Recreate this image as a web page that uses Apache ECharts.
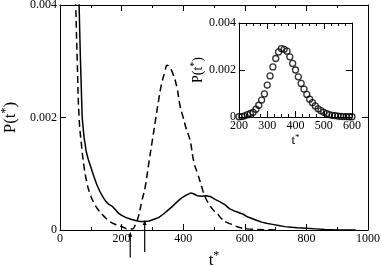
<!DOCTYPE html>
<html><head><meta charset="utf-8">
<script src="https://cdn.jsdelivr.net/npm/echarts@6/dist/echarts.min.js"></script>
<style>html,body{margin:0;padding:0;background:#fff}#c{width:382px;height:266px}</style>
</head><body><div id="c"></div>
<script>
// Main plot: solid curve
const tSolid = [60,62,66,72,78,85,92,100,110,120,130,140,150,160,170,180,190,200,215,230,245,260,275,290,305,320,335,350,365,380,395,410,425,435,445,460,475,490,505,520,535,550,565,580,595,610,625,640,655,670,690,710,730,750,770,800,830,860,900,960];
const pSolid = [0.0042,0.0040,0.0031,0.0020,0.00165,0.0014,0.00125,0.00112,0.00095,0.0008,0.00068,0.00058,0.0005,0.00045,0.00042,0.00036,0.0003,0.00026,0.00022,0.00019,0.00017,0.00015,0.00015,0.00016,0.00019,0.00022,0.00028,0.00035,0.00042,0.0005,0.00057,0.00062,0.00066,0.00064,0.00061,0.0006,0.00061,0.00059,0.00054,0.0005,0.00045,0.00038,0.00034,0.00031,0.00028,0.00023,0.0002,0.00017,0.00014,0.00012,0.0001,0.00008,0.00006,0.00005,0.00004,0.00003,0.00002,0.00001,0.0,0.0];
// Main plot: dashed curve
const tDashed = [48,51,56,62,70,78,87,97,110,124,140,162,185,205,220,235,245,255,265,276,290,300,310,320,330,340,348,355,365,379,390,400,410,422,435,447,460,471,485,500,509,525,540,562,580,606,640,700];
const pDashed = [0.0045,0.0040,0.0030,0.0020,0.0015,0.00113,0.00085,0.00065,0.00048,0.00036,0.00026,0.00015,0.00009,0.00005,0.00002,0.00002,0.0001,0.00025,0.0005,0.00075,0.00125,0.0016,0.00195,0.0023,0.0026,0.0028,0.00293,0.0029,0.0028,0.00255,0.0022,0.002,0.0018,0.0016,0.0012,0.001,0.00077,0.00059,0.00045,0.00034,0.0003,0.0002,0.00014,0.00009,0.00005,0.00002,0.00001,0.0];
// Inset: circles
const tInset = [200,210,220,230,240,250,260,270,280,290,300,310,320,330,340,350,360,370,380,390,400,410,420,430,440,450,460,470,480,490,500,510,520,530,540,550,560,570,580,590,600];
const pInset = [0.00001,0.00002,0.00005,0.0001,0.00015,0.0002,0.00033,0.0005,0.00072,0.00098,0.00136,0.00175,0.00213,0.00249,0.00277,0.00291,0.00288,0.0028,0.00256,0.00228,0.002,0.00171,0.00143,0.00119,0.00096,0.00076,0.00061,0.00047,0.00035,0.00027,0.0002,0.00014,0.0001,0.00007,0.00006,0.00004,0.00003,0.00002,0.00002,0.00001,0.00001];
// Arrows (data coords)
const arrowT = [228, 275];
const arrowTop = [-0.00003, 0.00018];
const arrowBottom = [-0.00049, -0.00039];

const F = 'Liberation Serif';
const zip = (a, b) => a.map((v, i) => [v, b[i]]);
const yFmt = v => v === 0 ? '0' : v.toFixed(3);
const xFmt = v => String(v);
const rich = (size) => ({ b: {fontFamily: F, fontSize: size, color: '#000'}, s: {fontFamily: F, fontSize: Math.round(size*0.7), color: '#000', padding: [0,0,Math.round(size*0.55),0]} });

function xAx(grid, pos, min, max, interval, minorSplit, showLabel, name, nameGap, nameSize) {
  return {
    type: 'value', gridIndex: grid, position: pos, min: min, max: max, interval: interval,
    axisLine: {show: true, onZero: false, lineStyle: {color: '#000', width: 1}},
    axisTick: {show: true, inside: true, length: 6, lineStyle: {color: '#000'}},
    minorTick: {show: true, splitNumber: minorSplit, length: 3, lineStyle: {color: '#000'}},
    splitLine: {show: false},
    axisLabel: {show: showLabel, fontFamily: F, fontSize: 12, color: '#000', margin: 3, formatter: xFmt},
    name: name || '', nameLocation: 'middle', nameGap: nameGap || 0,
    nameTextStyle: {fontFamily: F, fontSize: nameSize || 12, color: '#000', rich: rich(nameSize || 12)}
  };
}
function yAx(grid, pos, showLabel, name, nameGap, nameSize) {
  return {
    type: 'value', gridIndex: grid, position: pos, min: 0, max: 0.004, interval: 0.002,
    axisLine: {show: true, onZero: false, lineStyle: {color: '#000', width: 1}},
    axisTick: {show: true, inside: true, length: 6, lineStyle: {color: '#000'}},
    splitLine: {show: false},
    axisLabel: {show: showLabel, fontFamily: F, fontSize: 12, color: '#000', margin: 3, formatter: yFmt},
    name: name || '', nameLocation: 'middle', nameGap: nameGap || 0, nameRotate: 90,
    nameTextStyle: {fontFamily: F, fontSize: nameSize || 12, color: '#000', rich: rich(nameSize || 12)}
  };
}

const chart = echarts.init(document.getElementById('c'), null, {renderer: 'canvas'});
chart.setOption({
  animation: false,
  backgroundColor: '#fff',
  grid: [
    {left: 60, top: 5, width: 308, height: 225, outerBoundsMode: 'none', containLabel: false},
    {left: 239, top: 23, width: 113, height: 94, show: true, backgroundColor: '#fff', borderWidth: 0, outerBoundsMode: 'none', containLabel: false}
  ],
  xAxis: [
    xAx(0, 'bottom', 0, 1000, 200, 2, true, '{b|t}{s|*}', 12, 17),
    xAx(0, 'top', 0, 1000, 200, 2, false),
    xAx(1, 'bottom', 200, 600, 100, 4, true, '{b|t}{s|*}', 12, 13),
    xAx(1, 'top', 200, 600, 100, 4, false)
  ],
  yAxis: [
    yAx(0, 'left', true, '{b|P(t}{s|*}{b|)}', 36, 17),
    yAx(0, 'right', false),
    yAx(1, 'left', true, '{b|P(t}{s|*}{b|)}', 31, 14),
    yAx(1, 'right', false)
  ],
  series: [
    {type: 'line', xAxisIndex: 0, yAxisIndex: 0, data: zip(tSolid, pSolid), showSymbol: false, smooth: false,
     lineStyle: {color: '#000', width: 1.5}, clip: true},
    {type: 'line', xAxisIndex: 0, yAxisIndex: 0, data: zip(tDashed, pDashed), showSymbol: false, smooth: true,
     lineStyle: {color: '#000', width: 1.5, type: [7, 4]}, clip: true},
    {type: 'scatter', xAxisIndex: 2, yAxisIndex: 2, data: zip(tInset, pInset), symbol: 'circle', symbolSize: 6,
     itemStyle: {color: 'rgba(255,255,255,0)', borderColor: '#000', borderWidth: 1.3}}
  ]
});

// arrows below the main axis
const gr = [];
arrowT.forEach((t, i) => {
  const top = chart.convertToPixel({xAxisIndex: 0, yAxisIndex: 0}, [t, arrowTop[i]]);
  const bot = chart.convertToPixel({xAxisIndex: 0, yAxisIndex: 0}, [t, arrowBottom[i]]);
  gr.push({type: 'line', shape: {x1: top[0], y1: top[1] + 4, x2: bot[0], y2: bot[1]}, style: {stroke: '#000', lineWidth: 1.2}});
  gr.push({type: 'polygon', shape: {points: [[top[0], top[1]], [top[0] - 2, top[1] + 5], [top[0] + 2, top[1] + 5]]}, style: {fill: '#000'}});
});
chart.setOption({graphic: gr});
</script>
</body></html>
